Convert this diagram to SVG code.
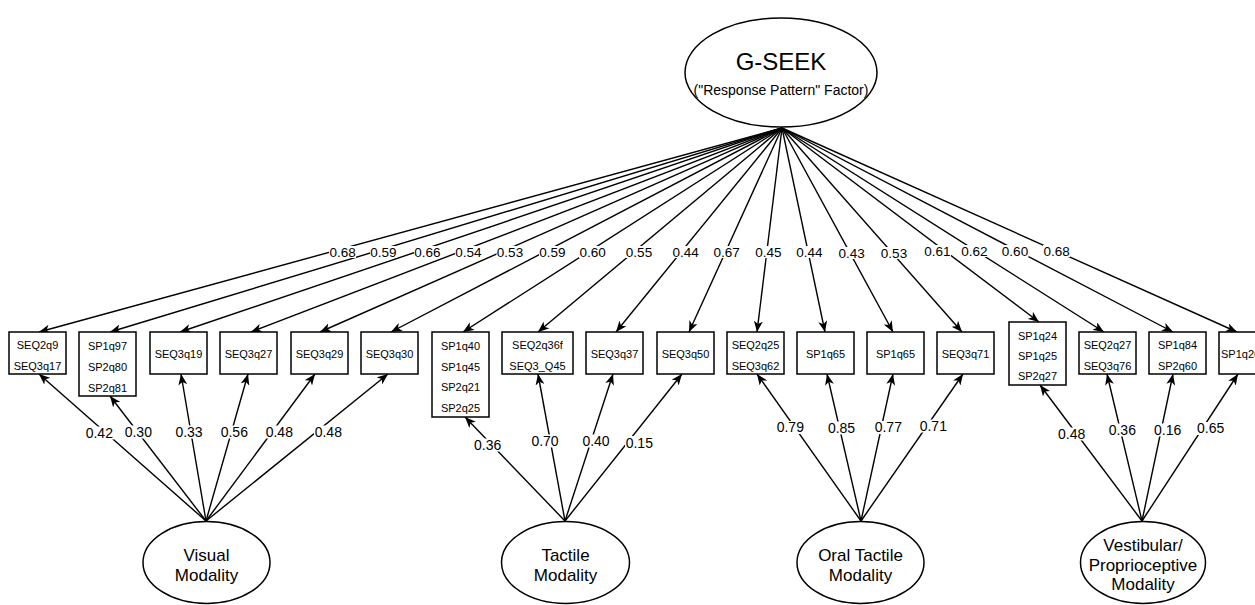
<svg xmlns="http://www.w3.org/2000/svg" width="1255" height="605" viewBox="0 0 1255 605">
<style>
.ln{stroke:#000;stroke-width:1.4;fill:none;marker-end:url(#ah)}
.bx{fill:#fff;stroke:#000;stroke-width:1.5}
.el{fill:#fff;stroke:#000;stroke-width:1.5}
.bt{font-family:"Liberation Sans",Arial,sans-serif;font-size:11px;text-anchor:middle;fill:#000}
.lt{font-family:"Liberation Sans",Arial,sans-serif;font-size:13.5px;text-anchor:middle;fill:#000}
.lb{font-family:"Liberation Sans",Arial,sans-serif;font-size:14px;text-anchor:middle;fill:#000}
.ft{font-family:"Liberation Sans",Arial,sans-serif;font-size:17px;text-anchor:middle;fill:#000}
.bg{fill:#fff}
</style>
<defs>
<marker id="ah" viewBox="0 0 11 9" refX="11" refY="4.5" markerWidth="11" markerHeight="9" markerUnits="userSpaceOnUse" orient="auto">
<path d="M0,0 L11,4.5 L0,9 L3,4.5 Z" fill="#000"/>
</marker>
</defs>
<rect width="1255" height="605" fill="#fff"/>
<g id="connectors">
<line class="ln" x1="782" y1="128" x2="39" y2="332"/>
<line class="ln" x1="782" y1="128" x2="110" y2="332"/>
<line class="ln" x1="782" y1="128" x2="180" y2="332"/>
<line class="ln" x1="782" y1="128" x2="251" y2="332"/>
<line class="ln" x1="782" y1="128" x2="320" y2="332"/>
<line class="ln" x1="782" y1="128" x2="391" y2="332"/>
<line class="ln" x1="782" y1="128" x2="463" y2="332"/>
<line class="ln" x1="782" y1="128" x2="538" y2="332"/>
<line class="ln" x1="782" y1="128" x2="616" y2="332"/>
<line class="ln" x1="782" y1="128" x2="689" y2="332"/>
<line class="ln" x1="782" y1="128" x2="757" y2="332"/>
<line class="ln" x1="782" y1="128" x2="825" y2="332"/>
<line class="ln" x1="782" y1="128" x2="893" y2="332"/>
<line class="ln" x1="782" y1="128" x2="962" y2="332"/>
<line class="ln" x1="782" y1="128" x2="1039" y2="322"/>
<line class="ln" x1="782" y1="128" x2="1104" y2="332"/>
<line class="ln" x1="782" y1="128" x2="1173" y2="332"/>
<line class="ln" x1="782" y1="128" x2="1237" y2="332"/>

<line class="ln" x1="206" y1="521" x2="39" y2="374"/>
<line class="ln" x1="206" y1="521" x2="110" y2="396"/>
<line class="ln" x1="206" y1="521" x2="181" y2="374"/>
<line class="ln" x1="206" y1="521" x2="248" y2="374"/>
<line class="ln" x1="206" y1="521" x2="315" y2="374"/>
<line class="ln" x1="206" y1="521" x2="388" y2="374"/>

<line class="ln" x1="565" y1="521" x2="465" y2="417"/>
<line class="ln" x1="565" y1="521" x2="538" y2="374"/>
<line class="ln" x1="565" y1="521" x2="613" y2="374"/>
<line class="ln" x1="565" y1="521" x2="682" y2="374"/>

<line class="ln" x1="861" y1="521" x2="757" y2="374"/>
<line class="ln" x1="861" y1="521" x2="827" y2="374"/>
<line class="ln" x1="861" y1="521" x2="893" y2="374"/>
<line class="ln" x1="861" y1="521" x2="963" y2="374"/>

<line class="ln" x1="1142" y1="521" x2="1040" y2="385"/>
<line class="ln" x1="1142" y1="521" x2="1107" y2="374"/>
<line class="ln" x1="1142" y1="521" x2="1173" y2="374"/>
<line class="ln" x1="1142" y1="521" x2="1238" y2="374"/>

<g id="labels-top">
<rect class="bg" x="329" y="246" width="27" height="12"/><text class="lt" x="342.7" y="256.8">0.68</text>
<rect class="bg" x="370" y="246" width="27" height="12"/><text class="lt" x="383.3" y="256.8">0.59</text>
<rect class="bg" x="414" y="246" width="27" height="12"/><text class="lt" x="427.3" y="256.8">0.66</text>
<rect class="bg" x="455" y="246" width="27" height="12"/><text class="lt" x="468.3" y="256.8">0.54</text>
<rect class="bg" x="496.5" y="246" width="27" height="12"/><text class="lt" x="510" y="256.8">0.53</text>
<rect class="bg" x="539" y="246" width="27" height="12"/><text class="lt" x="552.3" y="256.8">0.59</text>
<rect class="bg" x="579" y="246" width="27" height="12"/><text class="lt" x="592.7" y="256.8">0.60</text>
<rect class="bg" x="625.5" y="246" width="27" height="12"/><text class="lt" x="639" y="256.8">0.55</text>
<rect class="bg" x="672" y="246" width="27" height="12"/><text class="lt" x="685.7" y="256.8">0.44</text>
<rect class="bg" x="713" y="246" width="27" height="12"/><text class="lt" x="726.7" y="256.8">0.67</text>
<rect class="bg" x="755" y="246" width="27" height="12"/><text class="lt" x="768.3" y="256.8">0.45</text>
<rect class="bg" x="796" y="246" width="27" height="12"/><text class="lt" x="809.3" y="256.8">0.44</text>
<rect class="bg" x="838" y="247" width="27" height="12"/><text class="lt" x="851.7" y="257.8">0.43</text>
<rect class="bg" x="880.5" y="247" width="27" height="12"/><text class="lt" x="894" y="257.8">0.53</text>
<rect class="bg" x="924" y="245" width="27" height="12"/><text class="lt" x="937.3" y="255.8">0.61</text>
<rect class="bg" x="961" y="245" width="27" height="12"/><text class="lt" x="974.3" y="255.8">0.62</text>
<rect class="bg" x="1001.5" y="245" width="27" height="12"/><text class="lt" x="1015" y="255.8">0.60</text>
<rect class="bg" x="1043" y="245" width="27" height="12"/><text class="lt" x="1056.7" y="255.8">0.68</text>
</g>
<g id="labels-bottom">
<rect class="bg" x="85" y="426.5" width="29" height="13"/><text class="lb" x="99.3" y="437.7">0.42</text>
<rect class="bg" x="124" y="425.5" width="29" height="13"/><text class="lb" x="138.3" y="437">0.30</text>
<rect class="bg" x="174.5" y="425.5" width="29" height="13"/><text class="lb" x="189" y="437">0.33</text>
<rect class="bg" x="220" y="425.5" width="29" height="13"/><text class="lb" x="234.3" y="437">0.56</text>
<rect class="bg" x="265" y="425.5" width="29" height="13"/><text class="lb" x="279.3" y="437">0.48</text>
<rect class="bg" x="314" y="425.5" width="29" height="13"/><text class="lb" x="328.3" y="437">0.48</text>

<rect class="bg" x="473" y="438.5" width="29" height="13"/><text class="lb" x="487.7" y="450">0.36</text>
<rect class="bg" x="530.5" y="434.5" width="29" height="13"/><text class="lb" x="545" y="446">0.70</text>
<rect class="bg" x="581.5" y="434.5" width="29" height="13"/><text class="lb" x="596" y="446">0.40</text>
<rect class="bg" x="625" y="436" width="29" height="13"/><text class="lb" x="639.3" y="447.7">0.15</text>

<rect class="bg" x="776" y="421" width="29" height="13"/><text class="lb" x="790.3" y="432.3">0.79</text>
<rect class="bg" x="827" y="421.5" width="29" height="13"/><text class="lb" x="841.5" y="433">0.85</text>
<rect class="bg" x="874" y="421" width="29" height="13"/><text class="lb" x="888.3" y="432.3">0.77</text>
<rect class="bg" x="919" y="419.5" width="29" height="13"/><text class="lb" x="933.3" y="431">0.71</text>

<rect class="bg" x="1057" y="427.5" width="29" height="13"/><text class="lb" x="1071.7" y="439">0.48</text>
<rect class="bg" x="1108" y="423.5" width="29" height="13"/><text class="lb" x="1122.3" y="435">0.36</text>
<rect class="bg" x="1153" y="423.5" width="29" height="13"/><text class="lb" x="1167.7" y="435">0.16</text>
<rect class="bg" x="1196" y="422" width="29" height="13"/><text class="lb" x="1210.7" y="433.3">0.65</text>
</g>
</g>

<g id="g-seek">
<ellipse class="el" cx="781" cy="72.5" rx="96" ry="54.5"/>
<text class="ft" x="781" y="70" style="font-size:24px">G-SEEK</text>
<text class="ft" x="781" y="95" style="font-size:14px">("Response Pattern" Factor)</text>
</g>

<g id="visual">
<ellipse class="el" cx="206.5" cy="562.5" rx="63.5" ry="41"/>
<text class="ft" x="206.5" y="561">Visual</text>
<text class="ft" x="206.5" y="581">Modality</text>
</g>
<g id="tactile">
<ellipse class="el" cx="565.5" cy="562.5" rx="64" ry="41"/>
<text class="ft" x="565.5" y="561">Tactile</text>
<text class="ft" x="565.5" y="581">Modality</text>
</g>
<g id="oral-tactile">
<ellipse class="el" cx="860.5" cy="562.5" rx="63.5" ry="41"/>
<text class="ft" x="860.5" y="561">Oral Tactile</text>
<text class="ft" x="860.5" y="581">Modality</text>
</g>
<g id="vestibular">
<ellipse class="el" cx="1143" cy="562.5" rx="62.5" ry="41"/>
<text class="ft" x="1143" y="551">Vestibular/</text>
<text class="ft" x="1143" y="571">Proprioceptive</text>
<text class="ft" x="1143" y="590">Modality</text>
</g>

<g id="box1"><rect class="bx" x="9" y="332" width="57" height="42"/><text class="bt" x="37.5" y="349">SEQ2q9</text><text class="bt" x="37.5" y="370">SEQ3q17</text></g>
<g id="box2"><rect class="bx" x="79" y="332" width="57" height="64"/><text class="bt" x="107.5" y="350">SP1q97</text><text class="bt" x="107.5" y="371">SP2q80</text><text class="bt" x="107.5" y="392">SP2q81</text></g>
<g id="box3"><rect class="bx" x="150" y="332" width="57" height="42"/><text class="bt" x="178.5" y="357.5">SEQ3q19</text></g>
<g id="box4"><rect class="bx" x="220" y="332" width="57" height="42"/><text class="bt" x="248.5" y="357.5">SEQ3q27</text></g>
<g id="box5"><rect class="bx" x="291" y="332" width="57" height="42"/><text class="bt" x="319.5" y="357.5">SEQ3q29</text></g>
<g id="box6"><rect class="bx" x="361" y="332" width="57" height="42"/><text class="bt" x="389.5" y="357.5">SEQ3q30</text></g>
<g id="box7"><rect class="bx" x="432" y="332" width="57" height="85"/><text class="bt" x="460.5" y="350">SP1q40</text><text class="bt" x="460.5" y="370.5">SP1q45</text><text class="bt" x="460.5" y="391">SP2q21</text><text class="bt" x="460.5" y="411.5">SP2q25</text></g>
<g id="box8"><rect class="bx" x="502" y="332" width="71" height="42"/><text class="bt" x="537.5" y="349">SEQ2q36f</text><text class="bt" x="537.5" y="370">SEQ3_Q45</text></g>
<g id="box9"><rect class="bx" x="586" y="332" width="57" height="42"/><text class="bt" x="614.5" y="357.5">SEQ3q37</text></g>
<g id="box10"><rect class="bx" x="657" y="332" width="57" height="42"/><text class="bt" x="685.5" y="357.5">SEQ3q50</text></g>
<g id="box11"><rect class="bx" x="727" y="332" width="57" height="42"/><text class="bt" x="755.5" y="349">SEQ2q25</text><text class="bt" x="755.5" y="370">SEQ3q62</text></g>
<g id="box12"><rect class="bx" x="797" y="332" width="57" height="42"/><text class="bt" x="825.5" y="357.5">SP1q65</text></g>
<g id="box13"><rect class="bx" x="867" y="332" width="57" height="42"/><text class="bt" x="895.5" y="357.5">SP1q65</text></g>
<g id="box14"><rect class="bx" x="937" y="332" width="57" height="42"/><text class="bt" x="965.5" y="357.5">SEQ3q71</text></g>
<g id="box15"><rect class="bx" x="1009" y="322" width="57" height="63"/><text class="bt" x="1037.5" y="339.5">SP1q24</text><text class="bt" x="1037.5" y="359.5">SP1q25</text><text class="bt" x="1037.5" y="379.5">SP2q27</text></g>
<g id="box16"><rect class="bx" x="1079" y="332" width="57" height="42"/><text class="bt" x="1107.5" y="349">SEQ2q27</text><text class="bt" x="1107.5" y="370">SEQ3q76</text></g>
<g id="box17"><rect class="bx" x="1149" y="332" width="57" height="42"/><text class="bt" x="1177.5" y="349">SP1q84</text><text class="bt" x="1177.5" y="370">SP2q60</text></g>
<g id="box18"><rect class="bx" x="1219" y="332" width="57" height="42"/><text class="bt" x="1221" y="357.5" style="text-anchor:start">SP1q26</text></g>
</svg>
